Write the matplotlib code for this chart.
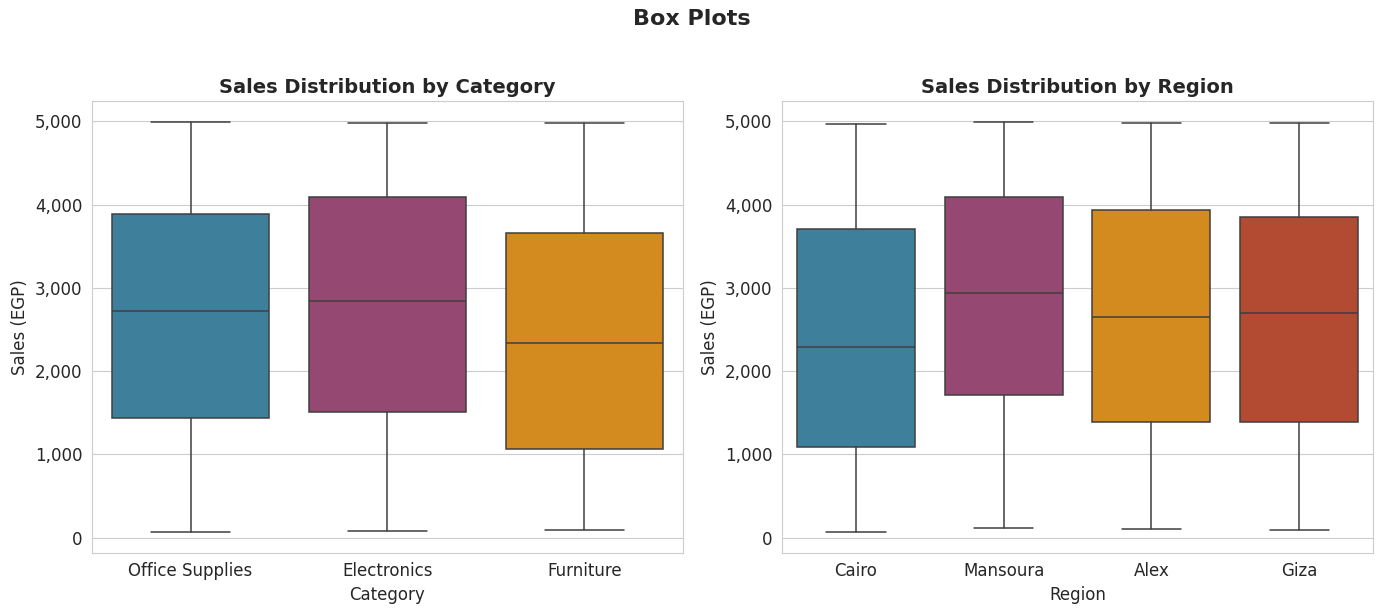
import matplotlib
matplotlib.use("Agg")
import matplotlib.pyplot as plt
import seaborn as sns
from matplotlib.ticker import FuncFormatter

# five-number summaries (EGP)
categories = ["Office Supplies", "Electronics", "Furniture"]
cat_low = [72, 84, 96]
cat_q1 = [1439, 1511, 1067]
cat_med = [2722, 2842, 2338]
cat_q3 = [3885, 4089, 3657]
cat_high = [4990, 4976, 4976]

regions = ["Cairo", "Mansoura", "Alex", "Giza"]
reg_low = [72, 120, 108, 96]
reg_q1 = [1091, 1715, 1391, 1391]
reg_med = [2290, 2938, 2650, 2698]
reg_q3 = [3705, 4089, 3933, 3849]
reg_high = [4964, 4988, 4976, 4976]

palette = ["#2E86AB", "#A23B72", "#F18F01", "#C73E1D"]

sns.set_style("whitegrid")
plt.rcParams["font.family"] = ["DejaVu Sans"]

line_col = "#3f3f3f"


def draw_box(ax, labels, low, q1, med, q3, high, title, xlabel):
    stats = []
    for i, lab in enumerate(labels):
        stats.append({
            "label": lab, "whislo": low[i], "q1": q1[i], "med": med[i],
            "q3": q3[i], "whishi": high[i], "fliers": [],
        })
    bp = ax.bxp(
        stats, positions=range(len(labels)), widths=0.8, capwidths=0.4,
        patch_artist=True, showfliers=False,
        boxprops=dict(edgecolor=line_col, linewidth=1.1),
        whiskerprops=dict(color=line_col, linewidth=1.1),
        capprops=dict(color=line_col, linewidth=1.1),
        medianprops=dict(color=line_col, linewidth=1.1),
    )
    for patch, c in zip(bp["boxes"], palette):
        patch.set_facecolor(sns.desaturate(c, 0.75))
    ax.set_xlim(-0.5, len(labels) - 0.5)
    ax.xaxis.grid(False)
    ax.set_title(title, fontsize=14, fontweight="bold")
    ax.set_xlabel(xlabel, fontsize=12)
    ax.set_ylabel("Sales (EGP)", fontsize=12)
    ax.tick_params(labelsize=12)
    ax.yaxis.set_major_formatter(FuncFormatter(lambda v, p: f"{v:,.0f}"))
    ax.set_yticks([0, 1000, 2000, 3000, 4000, 5000])
    ax.set_ylim(-180, 5240)
    for s in ax.spines.values():
        s.set_color("#cccccc")


fig, (ax1, ax2) = plt.subplots(1, 2, figsize=(13.84, 6.14), dpi=100)
fig.subplots_adjust(left=0.0665, right=0.992, top=0.835, bottom=0.1, wspace=0.168)

draw_box(ax1, categories, cat_low, cat_q1, cat_med, cat_q3, cat_high,
         "Sales Distribution by Category", "Category")
draw_box(ax2, regions, reg_low, reg_q1, reg_med, reg_q3, reg_high,
         "Sales Distribution by Region", "Region")

fig.suptitle("Box Plots", fontsize=16, fontweight="bold", y=0.985)

plt.savefig("out.png", dpi=100)
